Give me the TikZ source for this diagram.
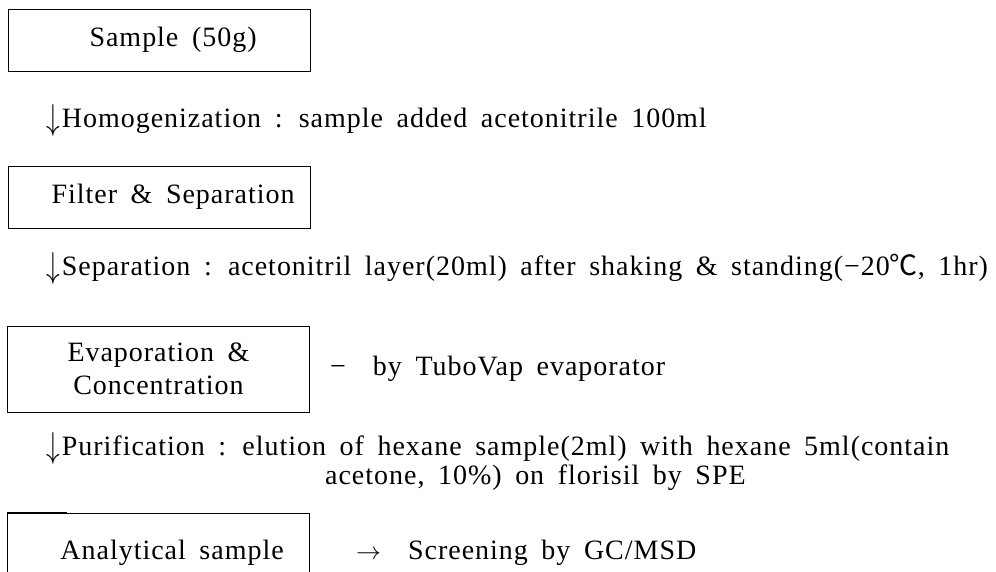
\documentclass[tikz,border=0pt]{standalone}
\usepackage{fontspec}
\setmainfont{Liberation Serif}[WordSpace=1.7, LetterSpace=3.5]
\newfontfamily\cjk{Noto Sans CJK KR}
\usetikzlibrary{positioning}

\newcommand{\dn}{\raisebox{-0.1ex}{\scalebox{1.1}[1.45]{$\downarrow$}}\kern2pt}

\tikzset{
	stepbox/.style={draw, line width=0.8pt, minimum width=302pt, minimum height=62pt, inner sep=0pt, align=center},
	note/.style={anchor=west, inner sep=0pt},
}

\begin{document}
\begin{tikzpicture}[x=1pt, y=-1pt, font=\fontsize{28}{33}\selectfont]
	\useasboundingbox[fill=white] (0,0) rectangle (996,572);

	% Boxes
	\node[stepbox] (sample) at (159.5,40) {\ \ Sample (50g)};
	\node[stepbox] (filter) at (159.5,197) {\ \ Filter \& Separation};
	\node[stepbox, minimum height=86pt] (evap) at (158.5,369) {Evaporation \&\\ Concentration};
	\node[stepbox, minimum height=80pt] (anal) at (158.5,553) {\ \ Analytical sample};
	\coordinate (tab) at ([xshift=60pt]anal.north west);
	\draw[line width=2pt] (anal.north west) -- (tab);

	% Step notes
	\node[note] (homog) at (46,120) {\dn Homogenization : sample added acetonitrile 100ml};
	\node[note] (sepa) at (46,268) {\dn Separation : acetonitril layer(20ml) after shaking \& standing(−20{\cjk ℃}, 1hr)};
	\node[note, right=20pt of evap] (tubo) {− \ by TuboVap evaporator};
	\node[note] (puri) at (46,448) {\dn Purification : elution of hexane sample(2ml) with hexane 5ml(contain};
	\node[note] (puri2) at (325,478) {acetone, 10\%) on florisil by SPE};
	\node[note, right=46pt of anal] (gcms) {$\rightarrow$ \ Screening by GC/MSD};

\end{tikzpicture}
\end{document}
